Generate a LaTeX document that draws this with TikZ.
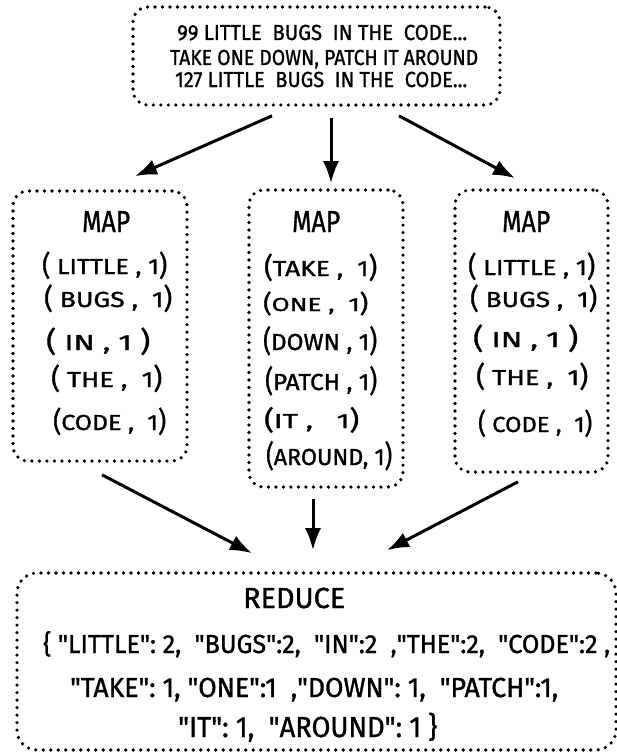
\documentclass[tikz,border=0pt]{standalone}
\usepackage{fontspec}
\usepackage{graphicx}
\setmainfont{Fira Sans}[FakeBold=1.2]
\usetikzlibrary{arrows.meta}
\newsavebox\hwa
\newsavebox\hwb
\newcommand\hwfit[3]{\sbox\hwa{#3}\sbox\hwb{H}\scalebox{\fpeval{#1*65536/\number\wd\hwa}}[\fpeval{#2*65536/\number\ht\hwb}]{\usebox\hwa}}
\newcommand\qq{\textquotedbl}
\newcommand\lp{\raisebox{-0.5pt}{\scalebox{1}[1.28]{(}}}
\newcommand\rp{\raisebox{-0.5pt}{\scalebox{1}[1.28]{)}}}
\tikzset{
  dotbox/.style={draw, line width=3.6pt, dash pattern=on 0pt off 7.5pt, line cap=round, rounded corners=15pt, inner sep=0pt},
  conn/.style={line width=3pt, -{Latex[length=22pt,width=16pt]}},
  txt/.style={anchor=base west, inner sep=0pt}
}
\begin{document}
\begin{tikzpicture}[x=1pt,y=-1pt]
\useasboundingbox (0,0) rectangle (617,752);
% boxes
\node[dotbox, minimum width=367pt, minimum height=98pt] (top) at (316.5,56) {};
\node[dotbox, minimum width=174pt, minimum height=270pt] (map1) at (100,326) {};
\node[dotbox, minimum width=154pt, minimum height=297pt] (map2) at (326,338.5) {};
\node[dotbox, minimum width=153pt, minimum height=282pt] (map3) at (531.5,331) {};
\node[dotbox, minimum width=599pt, minimum height=177pt, rounded corners=20pt] (reduce) at (316.5,661.5) {};
% top text
\node[txt] (t1) at (177,40) {\hwfit{290}{15}{99 LITTLE \ BUGS \ IN THE \ CODE...}};
\node[txt] (t2) at (170,65) {\hwfit{308}{15}{TAKE ONE DOWN, PATCH IT AROUND}};
\node[txt] (t3) at (175,87) {\hwfit{292}{15}{127 LITTLE \ BUGS \ IN THE \ CODE...}};
% MAP titles
\node[txt] (m1) at (82,232) {\hwfit{48}{21}{MAP}};
\node[txt] (m2) at (292,232) {\hwfit{48}{21}{MAP}};
\node[txt] (m3) at (502,232) {\hwfit{48}{21}{MAP}};
% left pairs
\node[txt] (l1) at (42,274) {\hwfit{125}{15}{\lp\ LITTLE , 1\rp}};
\node[txt] (l2) at (44,307) {\hwfit{128}{15}{\lp\ BUGS , \ 1\rp}};
\node[txt] (l3) at (46,350) {\hwfit{104}{15}{\lp\ IN , 1 \rp}};
\node[txt] (l4) at (51,387) {\hwfit{111}{15}{\lp\ THE , \ 1\rp}};
\node[txt] (l5) at (53,430) {\hwfit{113}{15}{\lp CODE , \ 1\rp}};
% middle pairs
\node[txt] (c1) at (264,276) {\hwfit{113}{15}{\lp TAKE , \ 1\rp}};
\node[txt] (c2) at (263,311) {\hwfit{105}{13}{\lp ONE , \ 1\rp}};
\node[txt] (c3) at (263,350) {\hwfit{114}{16}{\lp DOWN , 1\rp}};
\node[txt] (c4) at (265,390) {\hwfit{112}{16}{\lp PATCH , 1\rp}};
\node[txt] (c5) at (264,428) {\hwfit{95}{14}{\lp IT , \ \ 1\rp}};
\node[txt] (c6) at (266,465) {\hwfit{126}{16}{\lp AROUND, 1\rp}};
% right pairs
\node[txt] (r1) at (468,275) {\hwfit{127}{15}{\lp\ LITTLE , 1\rp}};
\node[txt] (r2) at (470,307) {\hwfit{127}{15}{\lp\ BUGS , \ 1\rp}};
\node[txt] (r3) at (473,347) {\hwfit{105}{15}{\lp\ IN , 1 \rp}};
\node[txt] (r4) at (476,385) {\hwfit{112}{15}{\lp\ THE , \ 1\rp}};
\node[txt] (r5) at (478,432) {\hwfit{114}{15}{\lp\ CODE , \ 1\rp}};
% reduce text
\node[txt] (rt) at (243,608) {\hwfit{102}{20}{REDUCE}};
\node[txt] (rl1) at (43,653) {\hwfit{567}{18}{\{ \qq LITTLE\qq: 2, \ \qq BUGS\qq:2, \ \qq IN\qq:2 \ ,\qq THE\qq:2, \ \qq CODE\qq:2 ,}};
\node[txt] (rl2) at (70,697) {\hwfit{488}{19}{\qq TAKE\qq: 1, \qq ONE\qq:1 \ ,\qq DOWN\qq: 1, \ \qq PATCH\qq:1,}};
\node[txt] (rl3) at (178,737) {\hwfit{259}{20}{\qq IT\qq: 1, \ \qq AROUND\qq: 1 \}}};
% connectors
\draw[conn] ([xshift=-44.5pt,yshift=-9pt]top.south) -- ([xshift=35pt,yshift=13pt]map1.north);
\draw[conn] ([xshift=14.5pt,yshift=-11pt]top.south) -- ([xshift=5pt,yshift=5pt]map2.north);
\draw[conn] ([xshift=82.5pt,yshift=-9pt]top.south) -- ([xshift=-16.5pt,yshift=10pt]map3.north);
\draw[conn] ([xshift=2pt,yshift=-12pt]map1.south) -- ([xshift=-64.5pt,yshift=18pt]reduce.north);
\draw[conn] ([xshift=-13pt,yshift=-10pt]map2.south) -- ([xshift=-3.5pt,yshift=21pt]reduce.north);
\draw[conn] ([xshift=-13.5pt,yshift=-8pt]map3.south) -- ([xshift=70.5pt,yshift=21pt]reduce.north);
\end{tikzpicture}
\end{document}
